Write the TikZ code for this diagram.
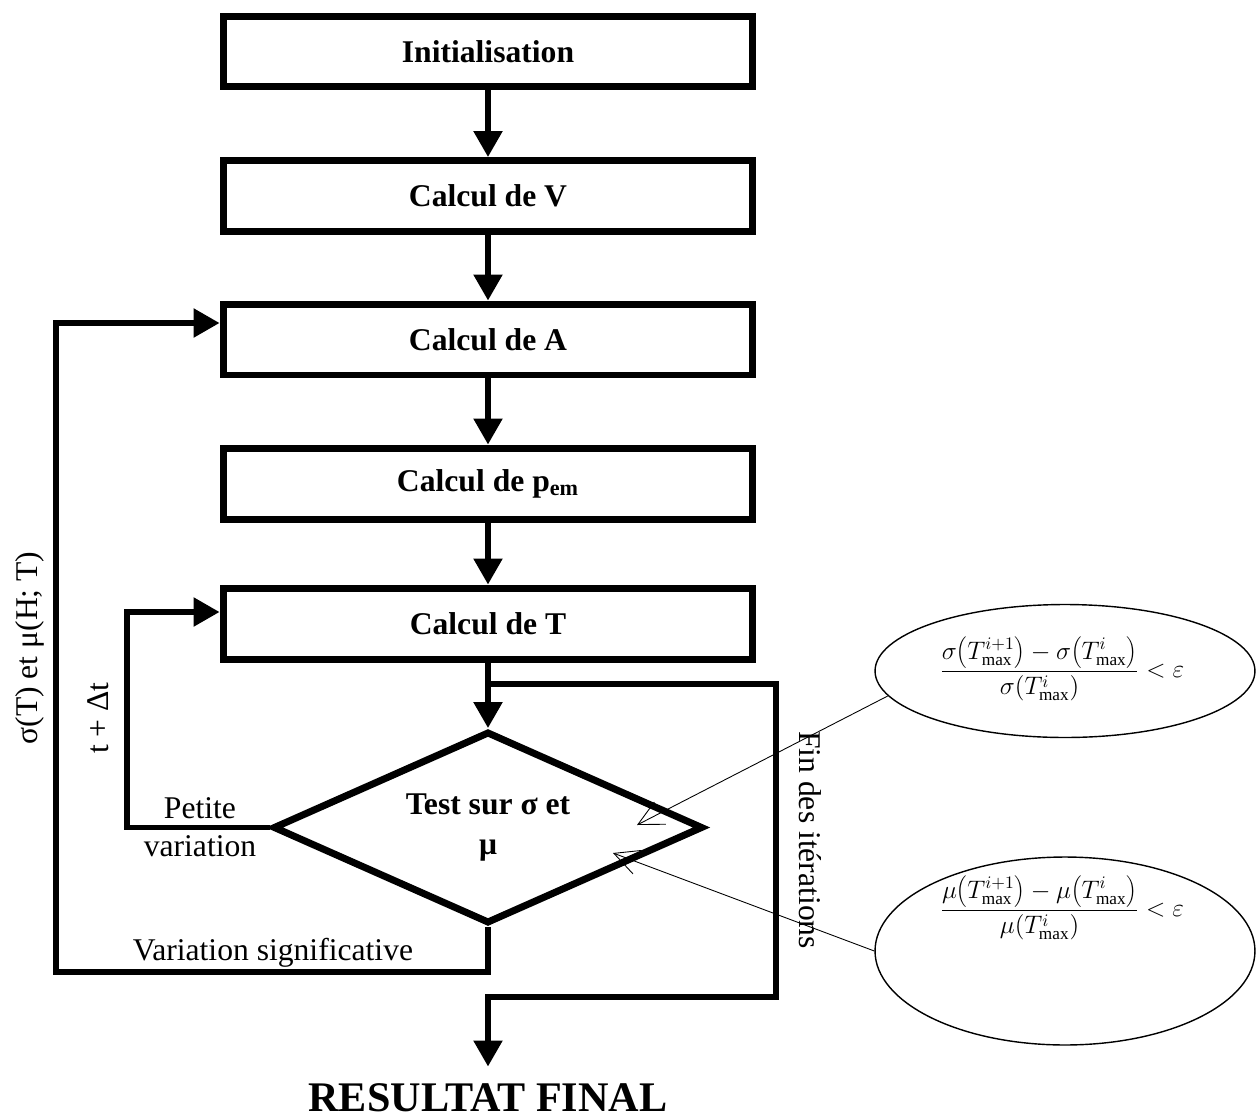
\documentclass[tikz,border=0pt]{standalone}
\usepackage{fontspec}
\setmainfont{Liberation Serif}
\usetikzlibrary{arrows.meta,shapes.geometric}

\begin{document}
\begin{tikzpicture}[
  x=0.02cm, y=-0.02cm,
  font=\fontsize{18}{22}\selectfont,
  stage/.style={draw, line width=.14cm, minimum width=10.6cm, minimum height=1.42cm,
    font=\fontsize{18}{22}\selectfont\bfseries},
  decision/.style={diamond, draw, line width=.14cm, shape aspect=2.2,
    minimum width=8.6cm, minimum height=3.84cm, inner sep=0pt, align=center,
    font=\fontsize{18}{23}\selectfont\bfseries},
  flow/.style={line width=.11cm, -{Triangle[length=.52cm, width=.56cm]}},
  bubble/.style={ellipse, draw, line width=.8pt, inner sep=0pt},
  pointer/.style={line width=.5pt, -{Straight Barb[length=.5cm, width=.5cm]}},
  remark/.style={align=center, inner sep=1pt, font=\fontsize{18}{21.6}\selectfont},
  formula/.style={inner sep=0pt, font=\fontsize{14}{16}\selectfont}
]
\useasboundingbox (0,0) rectangle (1259,1120);

% main chain of computations
\node[stage] (init) at (488,51.5) {Initialisation};
\node[stage] (calcV) at (488,196) {Calcul de V};
\node[stage] (calcA) at (488,339.5) {Calcul de A};
\node[stage] (calcP) at (488,483.5) {Calcul de p\textsubscript{em}};
\node[stage] (calcT) at (488,623.5) {Calcul de T};
\node[decision] (test) at (488,827.5) {Test sur σ et\\μ};
\node[inner sep=0pt, font=\fontsize{24}{28}\selectfont\bfseries] (final) at (488,1098)
  {RESULTAT FINAL};
\draw[flow] (init) -- (calcV);
\draw[flow] (calcV) -- (calcA);
\draw[flow] (calcA) -- (calcP);
\draw[flow] (calcP) -- (calcT);
\draw[flow] (calcT) -- (test);

% loops back and exit
\coordinate (fork) at (488,684);
\draw[flow, shorten >=.34cm] (fork) -| (776,997) -| (final.north);
\draw[flow] (test.west) -| (127,612) -- (calcT.west |- 0,612);
\draw[flow] (test.south) |- (56,972) |- (calcA.west |- 0,323);
\node[remark] (petite) at (200,827) {Petite\\variation};
\node[remark] (signif) at (273,953) {Variation significative};
\node[remark, rotate=90] (props) at (30,648) {σ(T) et μ(H; T)};
\node[remark, rotate=90] (dt) at (98,718) {t + Δt};
\node[remark, rotate=-90] (fin) at (810,840) {Fin des itérations};

% stopping criteria
\node[bubble, minimum width=7.6cm, minimum height=2.66cm] (critS) at (1065,671) {};
\node[bubble, minimum width=7.6cm, minimum height=3.76cm] (critM) at (1065,951) {};
\node[formula] (fracS) at (1062,669)
  {$\displaystyle\frac{\sigma{\left(T^{i+1}_{\max}\right)}-\sigma{\left(T^{i}_{\max}\right)}}{\sigma{\left(T^{i}_{\max}\right)}}<\varepsilon$};
\node[formula] (fracM) at (1062,908)
  {$\displaystyle\frac{\mu{\left(T^{i+1}_{\max}\right)}-\mu{\left(T^{i}_{\max}\right)}}{\mu{\left(T^{i}_{\max}\right)}}<\varepsilon$};
\coordinate (tipS) at (637,825);
\coordinate (tipM) at (613,853);
\draw[pointer] (critS.188) -- (tipS);
\draw[pointer] (critM.west) -- (tipM);
\end{tikzpicture}
\end{document}
